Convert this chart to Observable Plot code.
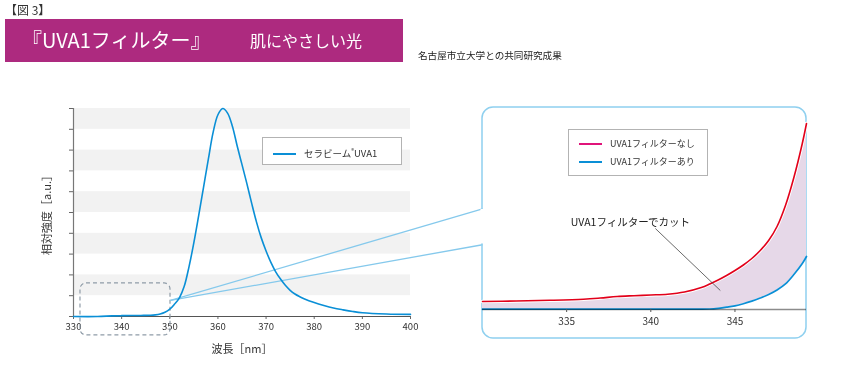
<!DOCTYPE html>
<html><head><meta charset="utf-8">
<script src="https://cdn.jsdelivr.net/npm/d3@7"></script>
<script src="https://cdn.jsdelivr.net/npm/@observablehq/plot@0.6"></script>
<style>
body{margin:0;background:#fff;font-family:"Noto Sans CJK JP","Noto Sans",sans-serif;color:#333;}
#wrap{position:relative;width:850px;height:365px;overflow:hidden;}
.abs{position:absolute;white-space:nowrap;}
#fig{left:5px;top:1px;font-size:12px;color:#333;}
#banner{left:5px;top:19px;width:398px;height:43px;background:#ad2a7f;}
#t1{left:17px;top:6px;font-size:20px;color:#fff;line-height:30px;}
#t2{left:245px;top:9px;font-size:16px;color:#fff;line-height:24px;}
#note{left:418px;top:48px;font-size:9.6px;color:#222;}
.legend{border:1px solid #b3b3b3;background:#fff;color:#333;}
.row{position:absolute;left:10px;height:14px;line-height:14px;}
.sw{display:inline-block;width:23px;height:0;border-top:2px solid;vertical-align:middle;margin-right:8px;position:relative;top:-1px;}
sup{font-size:6px;}
#mainPlot{left:0;top:0;}
#panelPlot{left:470px;top:95px;}
</style></head><body>
<div id="wrap">
  <div id="fig" class="abs">【図 3】</div>
  <div id="banner" class="abs">
    <div id="t1" class="abs">『UVA1フィルター』</div>
    <div id="t2" class="abs">肌にやさしい光</div>
  </div>
  <div id="note" class="abs">名古屋市立大学との共同研究成果</div>
  <div id="mainPlot" class="abs"></div>
  <div id="panelPlot" class="abs"></div>
  <div id="leg1" class="abs legend" style="left:262px;top:137px;width:138px;height:26px;font-size:9.5px;"></div>
  <div id="leg2" class="abs legend" style="left:568px;top:129px;width:138px;height:45px;font-size:9px;"></div>
</div>
<script>
// ---- Main spectrum ----
const wavelengths = [330,335,338,340,344,346,347,348,349,350,351,352,353,354,355,356,357,358,359,360,361,362,363,364,365,366,367,368,369,370,371,372,373,374,375,376,377,378,380,382,384,386,388,390,395,400];
const intensity   = [0,0,0.03,0.04,0.05,0.06,0.08,0.12,0.2,0.35,0.6,0.9,1.45,2.4,3.55,4.85,6.2,7.55,8.85,9.7,10,9.78,9.15,8.2,7.3,6.4,5.45,4.55,3.78,3.15,2.6,2.15,1.8,1.5,1.26,1.08,0.95,0.84,0.67,0.53,0.41,0.32,0.24,0.18,0.12,0.1];
const xTicks = [330,340,350,360,370,380,390,400];
const yTicks = [0,1,2,3,4,5,6,7,8,9,10];
const stripeStarts = [1,3,5,7,9];
const mainLegend = ["セラビーム", "UVA1"];
const xLabel = "波長［nm］";
const yLabel = "相対強度［a.u.］";
// zoom region (data units) and projection ends
const zoomBox = [{x1:331.45, x2:350.15, y1:-0.91, y2:1.59}];
const projections = [
  {x1:350.15, y1:0.77, x2:414.96, y2:5.18},
  {x1:350.15, y1:0.77, x2:414.96, y2:3.45}
];

// ---- Zoom panel ----
const panelX    = [330,332,334,336,337,338,339,340,341,342,343,343.5,344,344.5,345,345.5,346,346.5,347,347.5,348,348.5,349,349.25];
const noFilter  = [0.04,0.0425,0.046,0.0515,0.0575,0.065,0.069,0.0725,0.0765,0.0875,0.11,0.1275,0.1475,0.17,0.195,0.2225,0.255,0.295,0.345,0.415,0.52,0.66,0.83,0.93];
const withFilter= [0.0015,0.0015,0.0015,0.0015,0.0015,0.0015,0.0015,0.0015,0.0015,0.0015,0.0015,0.0025,0.006,0.0115,0.0185,0.029,0.042,0.0575,0.075,0.0975,0.128,0.175,0.23,0.265];
const panelTicks = [335,340,345];
const seriesNames = ["UVA1フィルターなし","UVA1フィルターあり"];
const annotation = [{text:"UVA1フィルターでカット", x:338.79, y:0.432, lx1:340.27, ly1:0.405, lx2:344.13, ly2:0.095}];
const panelFrame = [{x1:330, x2:349.25, y1:-0.145, y2:1.01}];
const panelOpening = [{x:330, y1:0.328, y2:0.5}];

const font = '"Noto Sans CJK JP","Noto Sans",sans-serif';
const blue = "#0a8fd6";
const red = "#e2001a";

const spectrum = wavelengths.map((w,i)=>({w, v:intensity[i]}));

const main = Plot.plot({
  width: 850, height: 365,
  marginLeft: 73, marginRight: 440, marginTop: 108, marginBottom: 49,
  style: {fontFamily: font, fontSize: "9.5px", color: "#333", background: "transparent", overflow: "visible"},
  x: {domain: [330, 400]},
  y: {domain: [0, 10]},
  marks: [
    Plot.rect(stripeStarts, {x1: 330, x2: 400, y1: d=>d, y2: d=>d+1, fill: "#f2f2f2"}),
    Plot.axisY({ticks: yTicks, tickFormat: ()=>"", tickSize: 4, stroke: "#666", label: yLabel, labelAnchor: "center", labelOffset: 30, labelArrow: false, fontSize: 10}),
    Plot.axisX({ticks: xTicks, tickSize: 3, tickPadding: 4, stroke: "#666", label: xLabel, labelAnchor: "center", labelOffset: 36, labelArrow: false, fontSize: 9.5}),
    Plot.ruleX([330], {y1: 0, y2: 10, stroke: "#777", strokeWidth: 1.2}),
    Plot.ruleY([0], {x1: 330, x2: 400, stroke: "#555", strokeWidth: 1.2}),
    Plot.rect(zoomBox, {x1:"x1", x2:"x2", y1:"y1", y2:"y2", fill:"none", stroke:"#8f9ca8", strokeWidth:1.2, strokeDasharray:"4,3", rx:6}),
    Plot.link(projections, {x1:"x1", y1:"y1", x2:"x2", y2:"y2", stroke:"#85c9ec", strokeWidth:1.3}),
    Plot.line(spectrum, {x:"w", y:"v", stroke: blue, strokeWidth: 1.6, curve: "catmull-rom"})
  ]
});
document.getElementById("mainPlot").append(main);
main.querySelectorAll('g[aria-label="x-axis label"] text, g[aria-label="y-axis label"] text').forEach(t=>t.setAttribute("font-size", "11px"));

const pdata = panelX.map((x,i)=>({x, r:noFilter[i], b:withFilter[i]}));
const panel = Plot.plot({
  width: 350, height: 250,
  marginLeft: 12, marginRight: 14, marginTop: 14, marginBottom: 36,
  style: {fontFamily: font, fontSize: "10px", color: "#333", background: "transparent", overflow: "visible"},
  x: {domain: [330, 349.25]},
  y: {domain: [0, 1], axis: null},
  marks: [
    Plot.rect(panelFrame, {x1:"x1", x2:"x2", y1:"y1", y2:"y2", fill:"none", stroke:"#8fd0ef", strokeWidth:1.5, rx:11}),
    Plot.ruleX(panelOpening, {x:"x", y1:"y1", y2:"y2", stroke:"#fff", strokeWidth:4}),
    Plot.areaY(pdata, {x:"x", y1:"b", y2:"r", fill:"#e6d8e8", curve:"catmull-rom"}),
    Plot.line(pdata, {x:"x", y:"r", stroke:"#fff", strokeWidth:3.5, curve:"catmull-rom"}),
    Plot.line(pdata, {x:"x", y:"r", stroke:red, strokeWidth:1.6, curve:"catmull-rom"}),
    Plot.line(pdata, {x:"x", y:"b", stroke:blue, strokeWidth:1.7, curve:"catmull-rom"}),
    Plot.ruleY([0], {x1:330, x2:349.25, stroke:"#8c8c8c", strokeWidth:1.6, mixBlendMode:"multiply"}),
    Plot.axisX({ticks: panelTicks, tickSize: 3, tickPadding: 5, stroke:"#555", label: null, fontSize: 10}),
    Plot.link(annotation, {x1:"lx1", y1:"ly1", x2:"lx2", y2:"ly2", stroke:"#444", strokeWidth:0.8}),
    Plot.text(annotation, {x:"x", y:"y", text:"text", fontSize: 10.5, fill:"#222"})
  ]
});
document.getElementById("panelPlot").append(panel);

// Legends
document.getElementById("leg1").innerHTML =
  `<div class="row" style="top:6px;"><span class="sw" style="border-color:${blue}"></span>${mainLegend[0]}<sup>®</sup>${mainLegend[1]}</div>`;
document.getElementById("leg2").innerHTML =
  `<div class="row" style="top:7px;"><span class="sw" style="border-color:#e0147a"></span>${seriesNames[0]}</div>` +
  `<div class="row" style="top:25px;"><span class="sw" style="border-color:${blue}"></span>${seriesNames[1]}</div>`;
</script>
</body></html>
